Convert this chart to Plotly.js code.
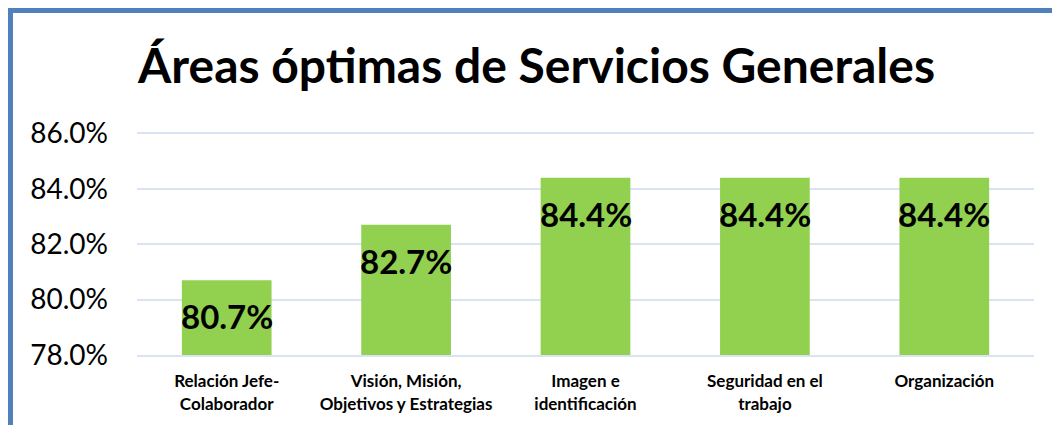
<!DOCTYPE html>
<html>
<head>
<meta charset="utf-8">
<script src="https://cdn.plot.ly/plotly-3.0.1.min.js"></script>
<style>
  body { margin: 0; background: #fff; }
  #wrap { position: relative; width: 1052px; height: 425px; overflow: hidden; }
  #myPlot { width: 1052px; height: 425px; }
  #frame {
    position: absolute; left: 8px; top: 8px; right: -10px; bottom: -10px;
    border-top: 5px solid #4f81bd; border-left: 5px solid #4f81bd;
    pointer-events: none;
  }
</style>
</head>
<body>
<div id="wrap">
  <div id="myPlot"></div>
  <div id="frame"></div>
</div>
<script>
// categories and values
var categories = [
  "Relación Jefe-<br>Colaborador",
  "Visión, Misión,<br>Objetivos y Estrategias",
  "Imagen e<br>identificación",
  "Seguridad en el<br>trabajo",
  "Organización"
];
var values = [0.807, 0.827, 0.844, 0.844, 0.844];
var yTicks = [0.78, 0.80, 0.82, 0.84, 0.86];

var data = [{
  type: "bar",
  x: categories,
  y: values,
  marker: { color: "#92d050" },
  hoverinfo: "skip"
}];

// value labels sit inside the top of each bar
var labels = [];
for (var i = 0; i < values.length; i++) {
  labels.push({
    x: categories[i],
    y: values[i],
    text: (values[i] * 100).toFixed(1) + "%",
    showarrow: false,
    yanchor: "top",
    yshift: -14,
    font: { family: "Lato", size: 33, color: "#000", weight: "bold" }
  });
}

var layout = {
  width: 1052,
  height: 425,
  margin: { l: 137, r: 18, t: 132, b: 70 },
  paper_bgcolor: "#fff",
  plot_bgcolor: "#fff",
  showlegend: false,
  bargap: 0.5,
  title: {
    text: "<b>Áreas óptimas de Servicios Generales</b>",
    font: { family: "Lato", size: 48, color: "#000" },
    x: 0.51, xanchor: "center", xref: "container",
    y: 0.845, yanchor: "middle", yref: "container"
  },
  xaxis: {
    type: "category",
    showgrid: false,
    showline: true,
    linecolor: "#d9e3f3",
    linewidth: 2,
    ticks: "",
    ticklabelstandoff: 10,
    tickfont: { family: "Lato", size: 17, color: "#000", weight: "bold" }
  },
  yaxis: {
    range: [0.78, 0.8605],
    tickvals: yTicks,
    tickformat: ".1%",
    showgrid: true,
    gridcolor: "#d9e3f3",
    gridwidth: 2,
    zeroline: false,
    ticks: "",
    ticklabelstandoff: 28,
    tickfont: { family: "Lato", size: 28, color: "#000" }
  },
  annotations: labels
};

Plotly.newPlot("myPlot", data, layout, { displayModeBar: false, staticPlot: true });
</script>
</body>
</html>
